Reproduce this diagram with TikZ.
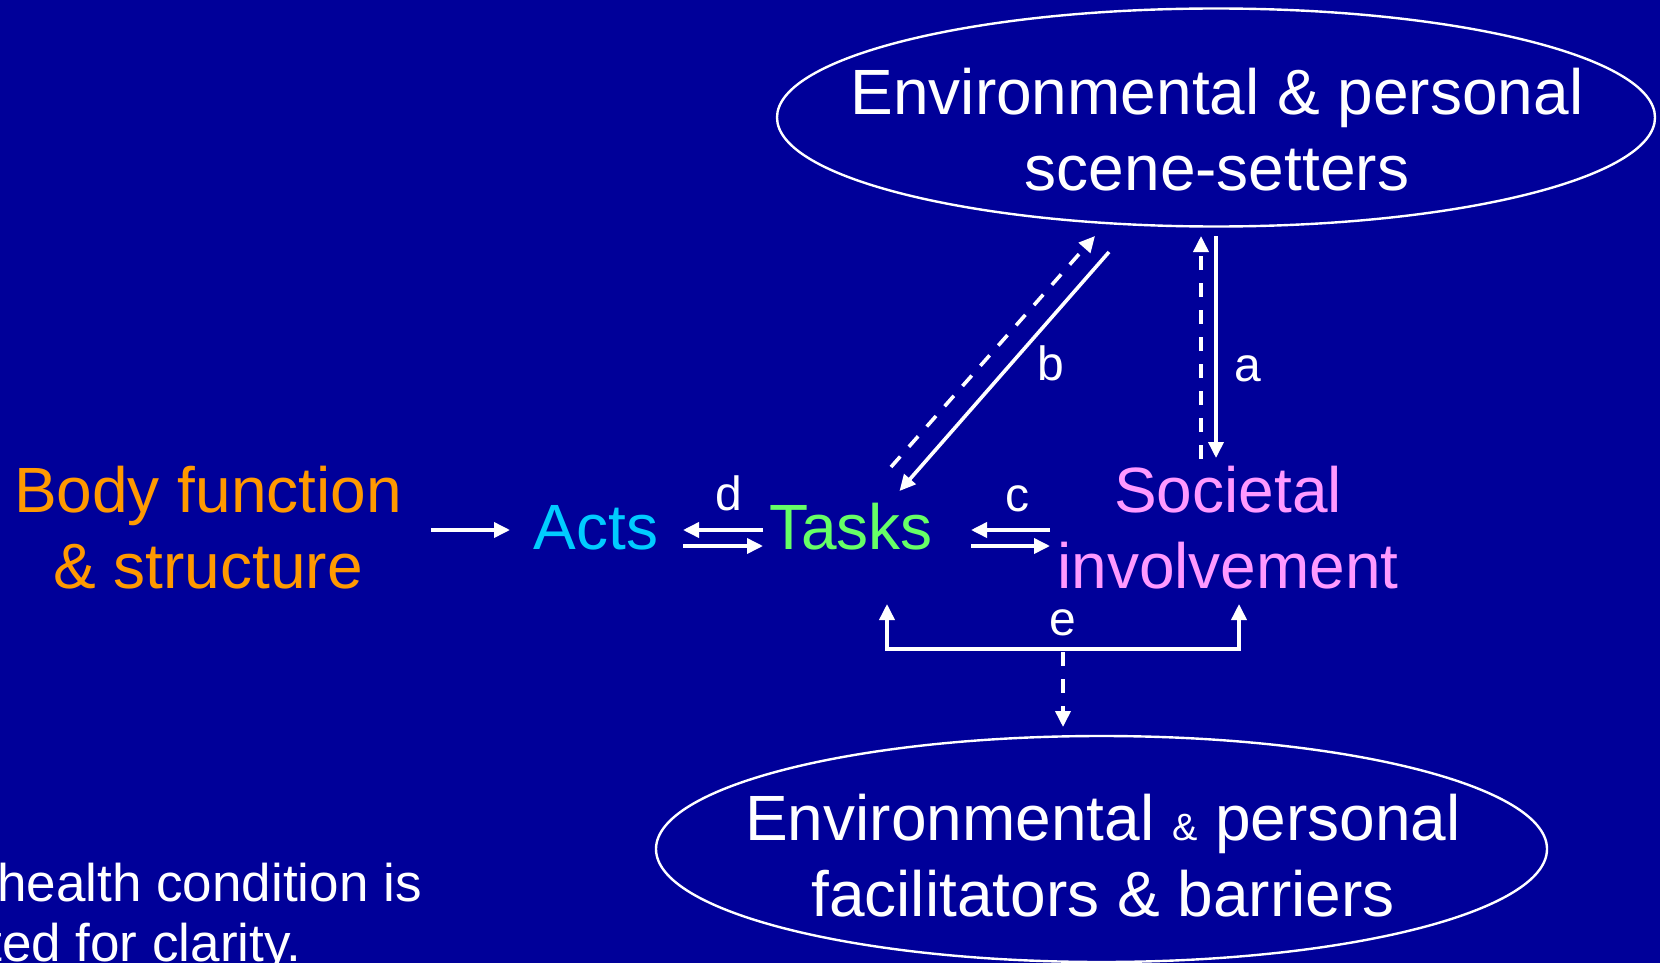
\documentclass[tikz,border=0pt]{standalone}
\usepackage{fontspec}
\setmainfont{Liberation Sans}
\usetikzlibrary{shapes.geometric,arrows.meta}
\definecolor{bg}{RGB}{0,0,153}
\definecolor{orng}{RGB}{255,153,0}
\definecolor{cyn}{RGB}{0,204,255}
\definecolor{grn}{RGB}{102,255,102}
\definecolor{pnk}{RGB}{255,153,255}
\tikzset{
  big/.style={font=\fontsize{32}{38}\selectfont, inner sep=0pt, align=center, anchor=base},
  lbl/.style={font=\fontsize{24}{28}\selectfont, text=white, inner sep=0pt, anchor=base},
  note/.style={font=\fontsize{26.5}{30}\selectfont, text=white, inner sep=0pt, anchor=base west},
  oval/.style={draw=white, line width=1.2pt, ellipse, inner sep=0pt},
  arr/.style={draw=white, line width=1.8pt, -{Triangle[length=8pt,width=7.5pt]}},
  dbl/.style={draw=white, line width=1.8pt, {Triangle[length=8pt,width=7.5pt]}-{Triangle[length=8pt,width=7.5pt]}},
  dsh/.style={arr, dash pattern=on 7pt off 6.5pt},
}
\begin{document}
\begin{tikzpicture}[x=0.5pt,y=-0.5pt]
\clip (0,0) rectangle (1660,963);
\fill[bg] (0,0) rectangle (1660,963);

% ellipses (base anchor = baseline of last line)
\node[oval, minimum width=439pt, minimum height=109pt] (envtop) at (1216,117.5) {};
\node[big, text=white] (envtoptext) at (1217,191) {Environmental \& personal\\scene-setters};
\node[oval, minimum width=445.5pt, minimum height=113pt] (envbot) at (1101.5,849) {};
\node[big, text=white] (envbottext) at (1103,916) {Environmental {\fontsize{19}{20}\selectfont\&} personal\\facilitators \& barriers};

% main nodes
\node[big, text=orng] (body) at (208,588) {Body function\\\& structure};
\node[big, text=cyn] (acts) at (596,549) {Acts};
\node[big, text=grn] (tasks) at (851,549) {Tasks};
\node[big, text=pnk] (soc) at (1228,588) {Societal\\involvement};

% labels
\node[lbl] (ld) at (729,510) {d};
\node[lbl] (lc) at (1017,511) {c};
\node[lbl] (lb) at (1051,380) {b};
\node[lbl] (la) at (1248,381) {a};
\node[lbl] (le) at (1063,635) {e};

% note
\node[note] (note1) at (-3,901) {health condition is};
\node[note] (note2) at (-13,961) {ted for clarity.};

% connector end points
\coordinate (ba) at (431,530); \coordinate (bb) at (510,530);
\coordinate (d1) at (763,530); \coordinate (d2) at (683,530);
\coordinate (d3) at (683,546); \coordinate (d4) at (763,546);
\coordinate (c1) at (1050,530); \coordinate (c2) at (971,530);
\coordinate (c3) at (971,546); \coordinate (c4) at (1050,546);
\coordinate (b1) at (891,467); \coordinate (b2) at (1095,236);
\coordinate (b3) at (1109,252); \coordinate (b4) at (899.5,491);
\coordinate (a1) at (1201,459); \coordinate (a2) at (1201,236);
\coordinate (a3) at (1216,236); \coordinate (a4) at (1216,458);
\coordinate (e1) at (887,604); \coordinate (e2) at (1239,604);
\coordinate (e3) at (1063,652); \coordinate (e4) at (1063,727);

% connectors
\draw[arr] (ba) -- (bb);
\draw[arr] (d1) -- (d2);
\draw[arr] (d3) -- (d4);
\draw[arr] (c1) -- (c2);
\draw[arr] (c3) -- (c4);
\draw[dsh] (b1) -- (b2);
\draw[arr] (b3) -- (b4);
\draw[dsh] (a1) -- (a2);
\draw[arr] (a3) -- (a4);
\draw[dbl] (e1) -- (887,649) -- (1239,649) -- (e2);
\draw[dsh] (e3) -- (e4);
\end{tikzpicture}
\end{document}
